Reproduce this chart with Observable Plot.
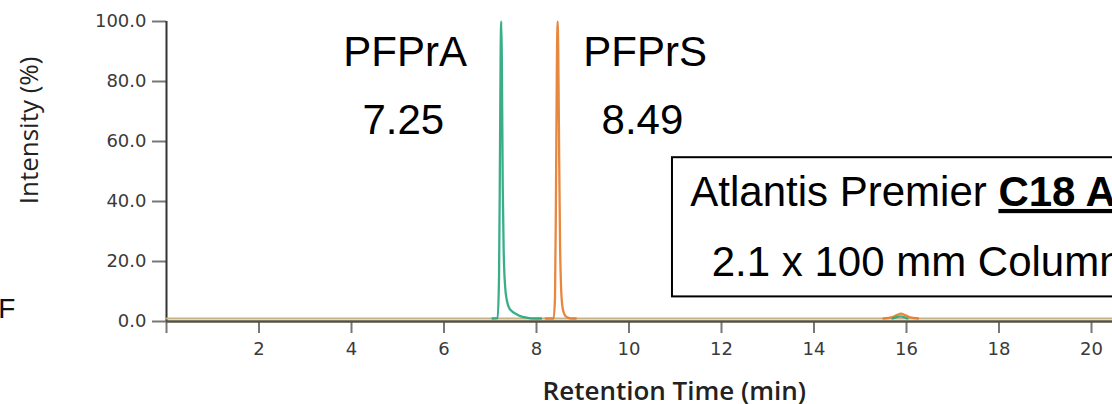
<!DOCTYPE html>
<html>
<head>
<meta charset="utf-8">
<script src="https://cdn.jsdelivr.net/npm/d3@7"></script>
<script src="https://cdn.jsdelivr.net/npm/@observablehq/plot@0.6"></script>
<style>
  html, body { margin: 0; padding: 0; background: white; overflow: hidden; }
  #chart svg { overflow: hidden; }
</style>
</head>
<body>
<div id="chart"></div>
<script>
// ---- data ----
const xTicks = [0, 2, 4, 6, 8, 10, 12, 14, 16, 18, 20];
const yTicks = [0, 20, 40, 60, 80, 100];

// PFPrA trace (green): main peak and small late bump
const pfpraTime      = [7.05, 7.16, 7.19, 7.21, 7.225, 7.238, 7.25, 7.27, 7.29, 7.32, 7.36, 7.41, 7.47, 7.55, 7.65, 7.78, 7.95, 8.10];
const pfpraIntensity = [1.0,  1.1,  15,   55,   90,    100,   88,   45,   24,   12,   7,    4.5,  3.4,  2.6,  1.8,  1.3,  1.0,  1.0];
const pfpraBumpTime      = [15.70, 15.87, 16.02];
const pfpraBumpIntensity = [1.0,   1.7,   1.0];

// PFPrS trace (orange): main peak and small late bump
const pfprsTime      = [8.20, 8.37, 8.40, 8.42, 8.44, 8.457, 8.47, 8.49, 8.51, 8.53, 8.56, 8.60, 8.66, 8.75, 8.85];
const pfprsIntensity = [1.0,  1.0,  8,    40,   85,   100,   90,   55,   25,   12,   5,    2.5,  1.4,  1.0,  1.0];
const pfprsBumpTime      = [15.50, 15.70, 15.80, 15.88, 15.96, 16.06, 16.25];
const pfprsBumpIntensity = [1.0,   1.5,   2.2,   2.6,   2.2,   1.5,   1.0];

// baseline of the other traces (tan)
const baseTime      = [0, 5, 10, 15, 20.5];
const baseIntensity = [1.0, 1.0, 1.0, 1.0, 1.0];

const peakNames = ["PFPrA", "PFPrS"];
const peakRTs   = ["7.25", "8.49"];
const columnLines = ["Atlantis Premier C18 AX", "2.1 x 100 mm Column"];
const yTitle = "Intensity (%)";
const xTitle = "Retention Time (min)";
const edgeText = ["F"];

const toRows = (t, v) => t.map((d, i) => ({time: d, intensity: v[i]}));
const pfpra = toRows(pfpraTime, pfpraIntensity);
const pfpraBump = toRows(pfpraBumpTime, pfpraBumpIntensity);
const pfprs = toRows(pfprsTime, pfprsIntensity);
const pfprsBump = toRows(pfprsBumpTime, pfprsBumpIntensity);
const base = toRows(baseTime, baseIntensity);

const green = "#24a57c";
const orange = "#e57a2b";
const arial = "Liberation Sans, Arial, sans-serif";
const lineOpts = (stroke) => ({x: "time", y: "intensity", stroke, strokeWidth: 2.3, strokeOpacity: 0.9, curve: "monotone-x"});

const plot = Plot.plot({
  width: 1112,
  height: 404,
  marginLeft: 166,
  marginRight: 0,
  marginTop: 21,
  marginBottom: 83,
  x: {domain: [0, 20.454]},
  y: {domain: [0, 100]},
  style: {fontFamily: "DejaVu Sans, sans-serif", fontSize: "18px", color: "#333", background: "white"},
  marks: [
    // column annotation box
    Plot.rect([0], {x1: 10.94, x2: 25, y1: 8.2, y2: 54.6, fill: "white", stroke: "black", strokeWidth: 2}),
    Plot.text(columnLines, {
      x: 16.23, y: (d, i) => [43.0, 19.7][i],
      fontSize: 42, fontFamily: arial, fill: "black"
    }),
    // peak labels
    Plot.text(peakNames, {x: (d, i) => [5.16, 10.35][i], y: 89.7, fontSize: 42, fontFamily: arial, fill: "black"}),
    Plot.text(peakRTs, {x: (d, i) => [5.12, 10.29][i], y: 67.0, fontSize: 42, fontFamily: arial, fill: "black"}),
    // cut-off text at left edge
    Plot.text(edgeText, {x: -3.64, y: 4.0, textAnchor: "start", fontSize: 28, fontFamily: arial, fill: "#111"}),
    // axes
    Plot.axisY({ticks: yTicks, tickFormat: d3.format(".1f"), tickSize: 14, tickPadding: 6,
      stroke: "#777", strokeWidth: 2, fill: "#3a3a3a", fontSize: 18, label: null}),
    Plot.axisX({ticks: xTicks, tickFormat: d => d === 0 ? "" : d, tickSize: 12, tickPadding: 9,
      stroke: "#777", strokeWidth: 2, fill: "#3a3a3a", fontSize: 18, label: null}),
    Plot.ruleX([0], {stroke: "#333", strokeWidth: 2}),
    Plot.ruleY([0], {stroke: "#55503c", strokeWidth: 2.5}),
    // traces
    Plot.line(base, {x: "time", y: "intensity", stroke: "#c6b287", strokeWidth: 2}),
    Plot.line(pfprsBump, lineOpts(orange)),
    Plot.line(pfprs, lineOpts(orange)),
    Plot.line(pfpraBump, lineOpts(green)),
    Plot.line(pfpra, lineOpts(green)),
    // axis titles
    Plot.text([yTitle], {frameAnchor: "left", y: 63.7, dx: -137, rotate: -90,
      textAnchor: "middle", lineAnchor: "middle",
      fontSize: 26, fontFamily: "Open Sans, sans-serif", fill: "#222"}),
    Plot.text([xTitle], {x: 10.98, frameAnchor: "bottom", dy: 69.7,
      textAnchor: "middle", lineAnchor: "middle",
      fontSize: 26, fontWeight: 600, fontFamily: "Open Sans, sans-serif", fill: "#222"})
  ]
});

// mixed styling for the first line of the box
d3.select(plot).selectAll("text").filter(function() { return this.textContent === columnLines[0]; })
  .each(function() {
    const t = d3.select(this);
    t.text("");
    t.append("tspan").text("Atlantis Premier ");
    t.append("tspan").attr("font-weight", "bold").style("text-decoration", "underline").text("C18 AX");
  });

document.getElementById("chart").appendChild(plot);
</script>
</body>
</html>
